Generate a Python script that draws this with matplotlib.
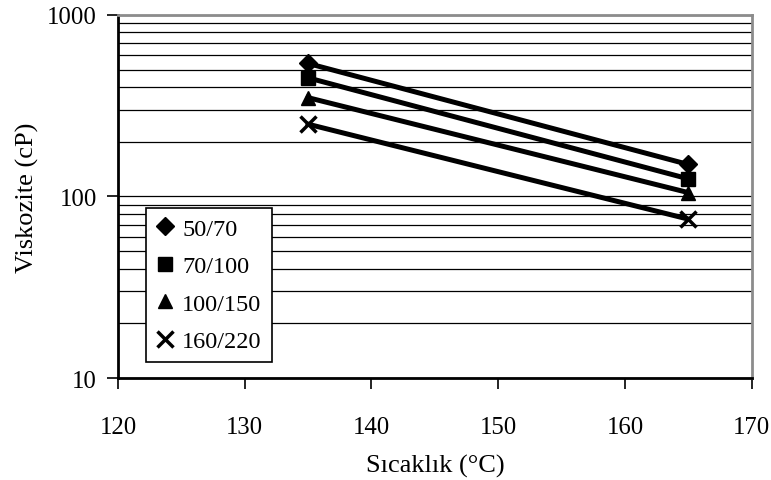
import numpy as np
import matplotlib
matplotlib.use("Agg")
import matplotlib.pyplot as plt
from matplotlib.ticker import FixedLocator, NullFormatter

plt.rcParams['font.family'] = ['Liberation Serif', 'DejaVu Serif']

temps = [135, 165]
series_names = ['50/70', '70/100', '100/150', '160/220']
visc_50_70 = [540, 150]
visc_70_100 = [450, 125]
visc_100_150 = [350, 105]
visc_160_220 = [250, 75]

x_ticks = [120, 130, 140, 150, 160, 170]
y_ticks = [10, 100, 1000]

series = [visc_50_70, visc_70_100, visc_100_150, visc_160_220]
markers = ['D', 's', '^', 'x']
msizes = [9, 10, 10, 11]

fig = plt.figure(figsize=(7.71, 4.81), dpi=100)
ax = fig.add_axes([0.153, 0.212, 0.822, 0.755])

ax.set_yscale('log')
ax.set_xlim(120, 170)
ax.set_ylim(10, 1000)

# minor grid lines (20..90, 200..900) plus the 100 line
minor = [m * 10 ** e for e in (1, 2) for m in range(2, 10)]
ax.yaxis.set_minor_locator(FixedLocator(minor))
ax.yaxis.set_minor_formatter(NullFormatter())
ax.set_yticks(y_ticks)
ax.set_yticklabels([str(v) for v in y_ticks])
ax.set_xticks(x_ticks)
ax.grid(True, which='both', axis='y', color='black', linewidth=0.9)
ax.tick_params(axis='y', which='minor', length=0)
ax.tick_params(axis='both', which='major', direction='out', length=8,
               width=1.2, labelsize=17.8)
ax.tick_params(axis='y', which='major', pad=7)
ax.tick_params(axis='x', which='major', pad=19)
ax.set_axisbelow(True)

for side in ['left', 'bottom']:
    ax.spines[side].set_color('black')
    ax.spines[side].set_linewidth(2)
for side in ['top', 'right']:
    ax.spines[side].set_color('#8c8c8c')
    ax.spines[side].set_linewidth(2)

handles = []
for vals, mk, ms, name in zip(series, markers, msizes, series_names):
    ax.plot(temps, vals, color='black', linewidth=3.6, zorder=3)
    h, = ax.plot(temps, vals, linestyle='none', marker=mk, markersize=ms,
                 color='black', markeredgewidth=2.5 if mk == 'x' else 1,
                 zorder=4, label=name)
    handles.append(h)

leg = ax.legend(handles=handles, loc='lower left',
                bbox_to_anchor=(0.044, 0.044), fontsize=17.5,
                frameon=True, fancybox=False, framealpha=1,
                edgecolor='black', handlelength=0.8, handletextpad=0.3,
                labelspacing=0.64, borderpad=0.4, borderaxespad=0)
leg.get_frame().set_linewidth(1.2)

ax.set_xlabel('Sıcaklık (°C)', fontsize=19, labelpad=12)
ax.set_ylabel('Viskozite (cP)', fontsize=19, labelpad=6)

fig.savefig('out.png', dpi=100)
